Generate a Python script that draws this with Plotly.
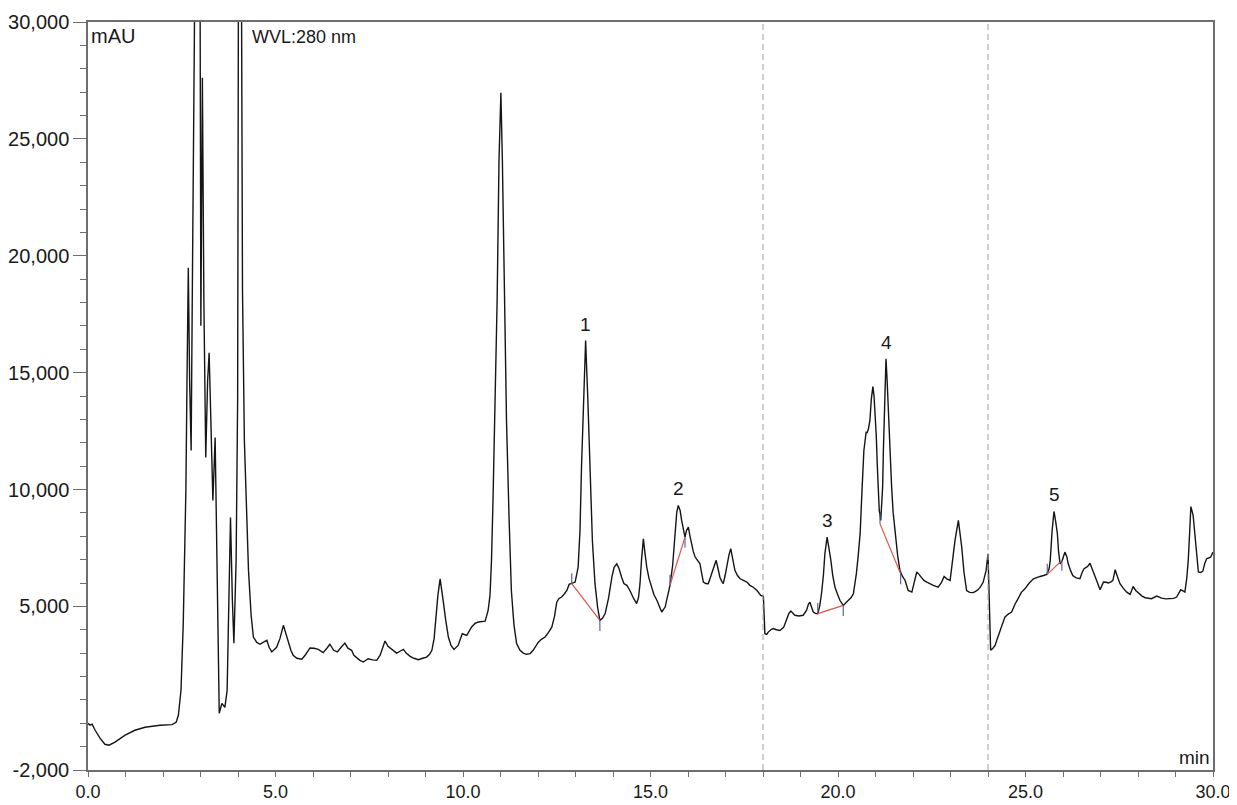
import plotly.graph_objects as go

# ---------------- data ----------------
time_min = [
    0.00, 0.05, 0.11, 0.19, 0.32, 0.45, 0.56, 0.72, 0.99, 1.25, 1.52, 1.92, 2.24, 2.35, 2.41,
    2.48, 2.54, 2.61, 2.64, 2.675, 2.71, 2.75, 2.78, 2.81, 2.90, 2.99, 3.01, 3.05, 3.09, 3.14,
    3.19, 3.23, 3.28, 3.33, 3.39, 3.44, 3.50, 3.57, 3.65, 3.71, 3.74, 3.80, 3.85, 3.89, 3.95,
    3.99, 4.01, 4.055, 4.095, 4.12, 4.17, 4.23, 4.28, 4.35, 4.41, 4.50, 4.59, 4.67, 4.77, 4.83,
    4.90, 5.03, 5.12, 5.21, 5.27, 5.34, 5.41, 5.47, 5.57, 5.70, 5.79, 5.92, 6.03, 6.14, 6.27,
    6.37, 6.45, 6.55, 6.65, 6.75, 6.85, 6.93, 7.03, 7.09, 7.17, 7.25, 7.34, 7.47, 7.59, 7.70,
    7.79, 7.87, 7.92, 8.00, 8.10, 8.23, 8.32, 8.41, 8.49, 8.59, 8.69, 8.81, 8.92, 9.03, 9.11,
    9.17, 9.23, 9.27, 9.33, 9.39, 9.43, 9.47, 9.54, 9.61, 9.68, 9.76, 9.87, 9.93, 9.98, 10.10,
    10.16, 10.23, 10.32, 10.41, 10.59, 10.67, 10.72, 10.76, 10.80, 10.85, 10.91, 10.96, 11.01, 11.05, 11.11,
    11.16, 11.23, 11.29, 11.36, 11.43, 11.52, 11.61, 11.69, 11.79, 11.87, 11.95, 12.01, 12.09, 12.19, 12.28,
    12.37, 12.44, 12.50, 12.56, 12.63, 12.69, 12.77, 12.83, 12.90, 12.99, 13.07, 13.12, 13.16, 13.21, 13.27,
    13.33, 13.39, 13.45, 13.52, 13.59, 13.65, 13.72, 13.79, 13.88, 13.97, 14.03, 14.10, 14.16, 14.23, 14.29,
    14.37, 14.45, 14.55, 14.63, 14.68, 14.72, 14.76, 14.81, 14.85, 14.90, 14.96, 15.03, 15.09, 15.17, 15.23,
    15.30, 15.39, 15.45, 15.52, 15.59, 15.65, 15.70, 15.74, 15.79, 15.83, 15.88, 15.92, 15.96, 16.01, 16.05,
    16.09, 16.14, 16.19, 16.25, 16.32, 16.36, 16.41, 16.47, 16.54, 16.59, 16.63, 16.69, 16.75, 16.80, 16.85,
    16.90, 16.94, 16.99, 17.03, 17.09, 17.14, 17.20, 17.25, 17.32, 17.39, 17.57, 17.65, 17.74, 17.84, 17.94,
    18.01, 18.03, 18.05, 18.10, 18.14, 18.21, 18.27, 18.36, 18.45, 18.55, 18.63, 18.69, 18.74, 18.80, 18.85,
    18.96, 19.07, 19.16, 19.21, 19.25, 19.29, 19.34, 19.40, 19.46, 19.51, 19.56, 19.61, 19.65, 19.71, 19.76,
    19.81, 19.86, 19.92, 19.99, 20.05, 20.14, 20.20, 20.28, 20.35, 20.41, 20.45, 20.49, 20.54, 20.59, 20.64,
    20.69, 20.75, 20.78, 20.81, 20.85, 20.89, 20.93, 20.96, 20.99, 21.02, 21.05, 21.07, 21.10, 21.14, 21.16,
    21.19, 21.21, 21.23, 21.25, 21.28, 21.31, 21.34, 21.39, 21.43, 21.47, 21.52, 21.59, 21.65, 21.72, 21.79,
    21.87, 21.97, 22.03, 22.10, 22.16, 22.23, 22.29, 22.37, 22.45, 22.54, 22.67, 22.76, 22.83, 22.90, 22.99,
    23.05, 23.12, 23.21, 23.25, 23.30, 23.36, 23.43, 23.51, 23.61, 23.71, 23.79, 23.87, 23.95, 24.00, 24.03,
    24.07, 24.13, 24.19, 24.25, 24.32, 24.39, 24.45, 24.53, 24.63, 24.72, 24.81, 24.89, 24.99, 25.09, 25.21,
    25.29, 25.39, 25.48, 25.57, 25.63, 25.66, 25.71, 25.76, 25.80, 25.85, 25.88, 25.92, 25.98, 26.05, 26.10,
    26.14, 26.20, 26.26, 26.35, 26.45, 26.51, 26.56, 26.63, 26.68, 26.72, 26.79, 26.85, 26.92, 26.99, 27.04,
    27.08, 27.15, 27.21, 27.28, 27.33, 27.37, 27.39, 27.45, 27.52, 27.61, 27.70, 27.79, 27.87, 27.94, 28.01,
    28.10, 28.19, 28.27, 28.36, 28.50, 28.63, 28.75, 28.85, 28.95, 29.03, 29.09, 29.14, 29.20, 29.25, 29.30,
    29.34, 29.38, 29.41, 29.47, 29.52, 29.56, 29.61, 29.67, 29.73, 29.78, 29.83, 29.88, 29.94, 30.00,
]

absorbance_mau = [
    0, -80, -40, -300, -640, -900, -940, -810, -510, -300, -170, -85, -60, 40, 340,
    1410, 4270, 9960, 14660, 19490, 14660, 11670, 18080, 30500, 42000, 30500, 17010, 27610, 18080, 11370,
    14660, 15850, 12520, 9530, 12220, 7390, 430, 850, 680, 1410, 4270, 8800, 5260, 3420, 6970,
    13800, 30500, 42000, 30500, 18500, 12090, 8550, 6540, 4620, 3690, 3460, 3380, 3460, 3550, 3250,
    3050, 3250, 3630, 4190, 3850, 3550, 3120, 2910, 2780, 2740, 2910, 3220, 3210, 3160, 3020,
    3210, 3380, 3120, 3050, 3250, 3430, 3210, 3120, 2910, 2810, 2690, 2620, 2760, 2710, 2690,
    2910, 3330, 3520, 3290, 3150, 3000, 3080, 3160, 2990, 2860, 2780, 2720, 2780, 2830, 2950,
    3120, 3630, 4400, 5470, 6180, 5770, 5260, 4400, 3690, 3330, 3160, 3330, 3630, 3830, 3760,
    3930, 4120, 4270, 4330, 4370, 4830, 5470, 6970, 9530, 12950, 18080, 24060, 26970, 24060, 18080,
    12950, 8680, 5680, 4190, 3410, 3120, 3000, 2950, 2980, 3120, 3330, 3470, 3590, 3690, 3890,
    4120, 4570, 5180, 5340, 5400, 5510, 5680, 5940, 5970, 6040, 6680, 8250, 10950, 13800, 16370,
    13800, 10950, 7820, 5970, 4960, 4400, 4490, 4690, 5340, 6250, 6670, 6820, 6620, 6250, 5980,
    5900, 5680, 5340, 5120, 5380, 5970, 6970, 7890, 7310, 6680, 6200, 5820, 5510, 5260, 5000,
    4760, 4970, 5430, 5900, 6750, 8110, 9020, 9320, 9100, 8680, 8250, 7960, 8250, 8390, 8030,
    7680, 7350, 7110, 6970, 6820, 6450, 6040, 5980, 5970, 6200, 6400, 6710, 6970, 6620, 6250,
    6070, 5970, 6320, 6680, 7180, 7470, 6970, 6540, 6320, 6180, 6040, 5900, 5820, 5680, 5470,
    5430, 4620, 3830, 3800, 3900, 4000, 4050, 4000, 3970, 4100, 4400, 4700, 4800, 4700, 4620,
    4590, 4620, 4830, 5090, 5180, 4960, 4760, 4700, 4690, 5000, 5540, 6320, 7250, 7960, 7520,
    6970, 6320, 5820, 5510, 5260, 5040, 5130, 5260, 5380, 5540, 5900, 6400, 7180, 8110, 9960,
    11670, 12450, 12440, 12590, 12950, 13890, 14400, 14020, 13380, 12310, 10950, 9960, 9100, 8680, 9320,
    10100, 11670, 13090, 14440, 15590, 14660, 13380, 11670, 10100, 9020, 8110, 7180, 6540, 6280, 6110,
    5680, 5610, 5980, 6470, 6370, 6250, 6110, 6040, 5960, 5900, 5820, 6030, 6280, 6180, 6110,
    6880, 7820, 8680, 8250, 7530, 6450, 5680, 5600, 5590, 5680, 5810, 6030, 6540, 7250, 4970,
    3120, 3210, 3330, 3630, 3970, 4320, 4540, 4660, 4760, 5090, 5400, 5600, 5760, 5980, 6180,
    6240, 6280, 6320, 6370, 6620, 6970, 8250, 9060, 8680, 8110, 7390, 6820, 6970, 7320, 7140,
    6820, 6540, 6320, 6220, 6180, 6450, 6610, 6680, 6750, 6850, 6540, 6250, 5940, 5710, 5900,
    6040, 6030, 6000, 6050, 6110, 6410, 6570, 6280, 5970, 5770, 5610, 5510, 5850, 5680, 5570,
    5450, 5370, 5340, 5330, 5440, 5350, 5320, 5330, 5340, 5400, 5600, 5710, 5660, 5610, 6200,
    6970, 8250, 9270, 8890, 8110, 7180, 6470, 6450, 6510, 6840, 7040, 7070, 7110, 7320,
]

# integrated peaks: label, retention time, apex height
peak_labels = ["1", "2", "3", "4", "5"]
peak_rt = [13.27, 15.74, 19.71, 21.28, 25.76]
peak_height = [16370, 9320, 7960, 15590, 9060]

# integration baselines (start / end)
base_start_t = [12.90, 15.52, 19.46, 21.12, 25.58]
base_start_v = [5970, 5900, 4690, 8530, 6370]
base_end_t = [13.65, 15.92, 20.14, 21.67, 25.97]
base_end_v = [4400, 7960, 5040, 6400, 6970]

# vertical event markers
event_times = [18.0, 24.0]

x_tick_vals = [0, 5, 10, 15, 20, 25, 30]
x_tick_text = ["0.0", "5.0", "10.0", "15.0", "20.0", "25.0", "30.0"]
y_tick_vals = [-2000, 5000, 10000, 15000, 20000, 25000, 30000]
y_tick_text = ["-2,000", "5,000", "10,000", "15,000", "20,000", "25,000", "30,000"]

# ---------------- figure ----------------
FONT = "Liberation Sans, Arial, Helvetica, sans-serif"
AXIS_COLOR = "#6e6e6e"
TICK_MARK_LEN = 450  # mAU, length of the small integration marks

fig = go.Figure()

fig.add_trace(go.Scatter(
    x=time_min, y=absorbance_mau, mode="lines",
    line=dict(color="#151515", width=1.4), hoverinfo="x+y", showlegend=False,
))

# red integration baselines
bx, by = [], []
for t0, v0, t1, v1 in zip(base_start_t, base_start_v, base_end_t, base_end_v):
    bx += [t0, t1, None]
    by += [v0, v1, None]
fig.add_trace(go.Scatter(x=bx, y=by, mode="lines",
                         line=dict(color="#e0534a", width=1.2),
                         hoverinfo="skip", showlegend=False))

# small bluish delimiter marks
mx, my = [], []
for t0, v0, t1, v1 in zip(base_start_t, base_start_v, base_end_t, base_end_v):
    mx += [t0, t0, None, t1, t1, None]
    my += [v0, v0 + TICK_MARK_LEN, None, v1, v1 - TICK_MARK_LEN, None]
fig.add_trace(go.Scatter(x=mx, y=my, mode="lines",
                         line=dict(color="#5c6699", width=1.2),
                         hoverinfo="skip", showlegend=False))

for et in event_times:
    fig.add_shape(type="line", xref="x", yref="paper", x0=et, x1=et, y0=0, y1=1,
                  line=dict(color="#a0a0a0", width=1, dash="6px,4px"))

for lab, rt, h in zip(peak_labels, peak_rt, peak_height):
    fig.add_annotation(x=rt, y=h, text=lab, showarrow=False, xanchor="center",
                       yanchor="bottom", yshift=4,
                       font=dict(family=FONT, size=19, color="#1a1a1a"))

fig.add_annotation(xref="paper", yref="paper", x=0, y=1, xanchor="left", yanchor="top",
                   xshift=1, yshift=-1, text="mAU", showarrow=False,
                   font=dict(family=FONT, size=20, color="#1a1a1a"))
fig.add_annotation(xref="paper", yref="paper", x=0.144, y=1, xanchor="left", yanchor="top",
                   yshift=-3, text="WVL:280 nm", showarrow=False,
                   font=dict(family=FONT, size=18, color="#1a1a1a"))
fig.add_annotation(xref="paper", yref="paper", x=1, y=0, xanchor="right", yanchor="bottom",
                   xshift=-1, yshift=0, text="min", showarrow=False,
                   font=dict(family=FONT, size=19, color="#1a1a1a"))

# the page adds an 8px body margin, so the figure is sized to the remaining window
fig.update_layout(
    width=1229, height=797,
    margin=dict(l=80, r=24, t=14, b=35),
    plot_bgcolor="white", paper_bgcolor="white",
    font=dict(family=FONT, color="#1a1a1a"),
    showlegend=False,
    xaxis=dict(
        range=[0, 30], tickmode="array", tickvals=x_tick_vals, ticktext=x_tick_text,
        ticks="outside", ticklen=5, tickwidth=1, tickcolor=AXIS_COLOR,
        showline=True, linecolor=AXIS_COLOR, linewidth=1.5, mirror=True,
        showgrid=False, zeroline=False, automargin=False,
        tickfont=dict(family=FONT, size=18, color="#1a1a1a"),
        minor=dict(tickmode="linear", tick0=0, dtick=1, ticks="outside", ticklen=5,
                   tickcolor=AXIS_COLOR, showgrid=False),
    ),
    yaxis=dict(
        range=[-2000, 30000], tickmode="array", tickvals=y_tick_vals, ticktext=y_tick_text,
        ticks="outside", ticklen=13, tickwidth=1, tickcolor=AXIS_COLOR,
        showline=True, linecolor=AXIS_COLOR, linewidth=1.5, mirror=True,
        showgrid=False, zeroline=False, automargin=False,
        tickfont=dict(family=FONT, size=20, color="#1a1a1a"),
        minor=dict(tickmode="linear", tick0=0, dtick=1000, ticks="outside", ticklen=6,
                   tickcolor=AXIS_COLOR, showgrid=False),
    ),
)

fig.write_html("out.html")
